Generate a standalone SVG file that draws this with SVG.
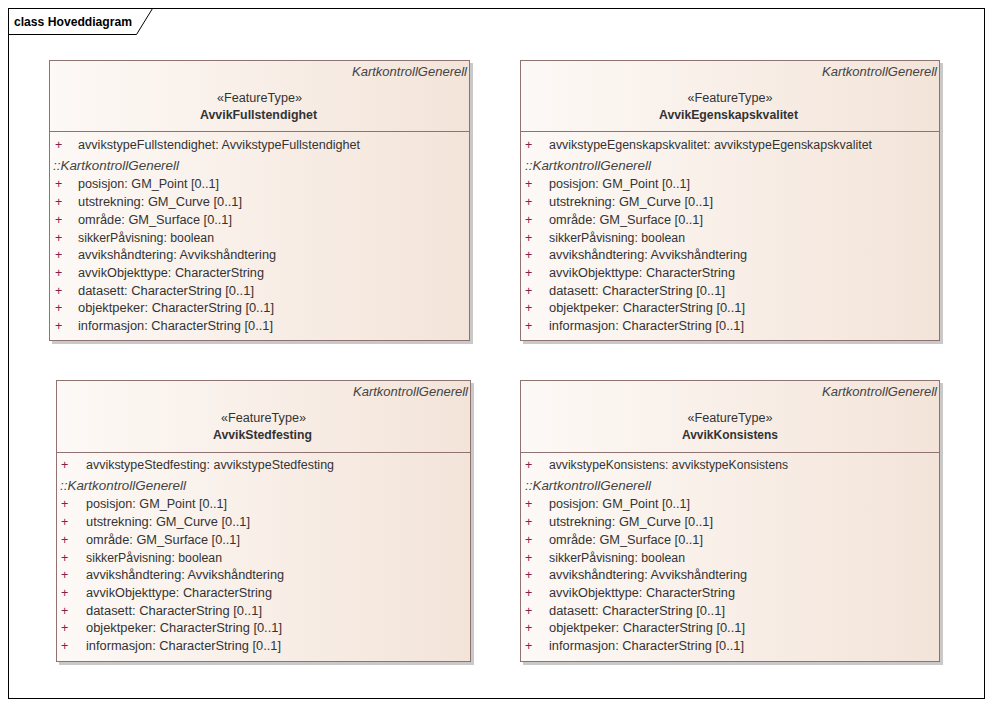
<svg xmlns="http://www.w3.org/2000/svg" width="992" height="707" viewBox="0 0 992 707">
<defs>
<linearGradient id="g" x1="0" y1="0" x2="1" y2="0">
<stop offset="0" stop-color="#fdf9f6"/>
<stop offset="1" stop-color="#f3e4d9"/>
</linearGradient>
<style>
text{font-family:"Liberation Sans","DejaVu Sans",sans-serif;font-size:12.5px;fill:#333}
.box{fill:url(#g);stroke:#8f7373;stroke-width:1}
.sh{fill:#c9c9c9}
.div{stroke:#8f7373;stroke-width:1}
.it{font-style:italic;fill:#444}
.b{font-weight:bold}
.p{fill:#8b1c4c}
.m{text-anchor:middle}
.r{text-anchor:end}
</style>
</defs>
<rect width="992" height="707" fill="#fff"/>
<g id="frame">
<rect x="8.5" y="8.5" width="976" height="690" fill="none" stroke="#000"/>
<path d="M8.5 34.5H136.5L152.5 8.5" fill="none" stroke="#000"/>
<text x="14" y="26" style="font-size:12.5px;fill:#000;font-weight:bold" textLength="118" lengthAdjust="spacingAndGlyphs">class Hoveddiagram</text>
</g>
<g id="connectors"/>
<g id="AvvikFullstendighet">
<rect class="sh" x="52" y="63" width="421" height="281"/>
<rect class="box" x="49.5" y="60.5" width="420" height="280"/>
<line class="div" x1="49.5" y1="131.5" x2="469.5" y2="131.5"/>
<text class="it r" x="467" y="76" textLength="115" lengthAdjust="spacingAndGlyphs">KartkontrollGenerell</text>
<text class="m" x="259.5" y="102" textLength="85" lengthAdjust="spacingAndGlyphs">«FeatureType»</text>
<text class="b m" x="258.5" y="119" textLength="117" lengthAdjust="spacingAndGlyphs">AvvikFullstendighet</text>
<g><text class="p" x="55" y="149">+</text><text class="p" x="55" y="188">+</text><text class="p" x="55" y="206">+</text><text class="p" x="55" y="224">+</text><text class="p" x="55" y="242">+</text><text class="p" x="55" y="259">+</text><text class="p" x="55" y="277">+</text><text class="p" x="55" y="295">+</text><text class="p" x="55" y="312">+</text><text class="p" x="55" y="330">+</text></g>
<text x="78" y="149" textLength="282" lengthAdjust="spacingAndGlyphs">avvikstypeFullstendighet: AvvikstypeFullstendighet</text>
<text class="it" x="53" y="170" textLength="126" lengthAdjust="spacingAndGlyphs">::KartkontrollGenerell</text>
<text x="78" y="188" textLength="141" lengthAdjust="spacingAndGlyphs">posisjon: GM_Point [0..1]</text>
<text x="78" y="206" textLength="164" lengthAdjust="spacingAndGlyphs">utstrekning: GM_Curve [0..1]</text>
<text x="78" y="224" textLength="154" lengthAdjust="spacingAndGlyphs">område: GM_Surface [0..1]</text>
<text x="78" y="242" textLength="136" lengthAdjust="spacingAndGlyphs">sikkerPåvisning: boolean</text>
<text x="78" y="259" textLength="198" lengthAdjust="spacingAndGlyphs">avvikshåndtering: Avvikshåndtering</text>
<text x="78" y="277" textLength="186" lengthAdjust="spacingAndGlyphs">avvikObjekttype: CharacterString</text>
<text x="78" y="295" textLength="176" lengthAdjust="spacingAndGlyphs">datasett: CharacterString [0..1]</text>
<text x="78" y="312" textLength="196" lengthAdjust="spacingAndGlyphs">objektpeker: CharacterString [0..1]</text>
<text x="78" y="330" textLength="195" lengthAdjust="spacingAndGlyphs">informasjon: CharacterString [0..1]</text>
</g>
<g id="AvvikEgenskapskvalitet">
<rect class="sh" x="523" y="63" width="420" height="281"/>
<rect class="box" x="520.5" y="60.5" width="419" height="280"/>
<line class="div" x1="520.5" y1="131.5" x2="939.5" y2="131.5"/>
<text class="it r" x="937" y="76" textLength="115" lengthAdjust="spacingAndGlyphs">KartkontrollGenerell</text>
<text class="m" x="730" y="102" textLength="85" lengthAdjust="spacingAndGlyphs">«FeatureType»</text>
<text class="b m" x="728.5" y="119" textLength="139" lengthAdjust="spacingAndGlyphs">AvvikEgenskapskvalitet</text>
<g><text class="p" x="525" y="149">+</text><text class="p" x="525" y="188">+</text><text class="p" x="525" y="206">+</text><text class="p" x="525" y="224">+</text><text class="p" x="525" y="242">+</text><text class="p" x="525" y="259">+</text><text class="p" x="525" y="277">+</text><text class="p" x="525" y="295">+</text><text class="p" x="525" y="312">+</text><text class="p" x="525" y="330">+</text></g>
<text x="549" y="149" textLength="323" lengthAdjust="spacingAndGlyphs">avvikstypeEgenskapskvalitet: avvikstypeEgenskapskvalitet</text>
<text class="it" x="525" y="170" textLength="126" lengthAdjust="spacingAndGlyphs">::KartkontrollGenerell</text>
<text x="549" y="188" textLength="141" lengthAdjust="spacingAndGlyphs">posisjon: GM_Point [0..1]</text>
<text x="549" y="206" textLength="164" lengthAdjust="spacingAndGlyphs">utstrekning: GM_Curve [0..1]</text>
<text x="549" y="224" textLength="154" lengthAdjust="spacingAndGlyphs">område: GM_Surface [0..1]</text>
<text x="549" y="242" textLength="136" lengthAdjust="spacingAndGlyphs">sikkerPåvisning: boolean</text>
<text x="549" y="259" textLength="198" lengthAdjust="spacingAndGlyphs">avvikshåndtering: Avvikshåndtering</text>
<text x="549" y="277" textLength="186" lengthAdjust="spacingAndGlyphs">avvikObjekttype: CharacterString</text>
<text x="549" y="295" textLength="176" lengthAdjust="spacingAndGlyphs">datasett: CharacterString [0..1]</text>
<text x="549" y="312" textLength="196" lengthAdjust="spacingAndGlyphs">objektpeker: CharacterString [0..1]</text>
<text x="549" y="330" textLength="195" lengthAdjust="spacingAndGlyphs">informasjon: CharacterString [0..1]</text>
</g>
<g id="AvvikStedfesting">
<rect class="sh" x="59" y="383" width="415" height="282"/>
<rect class="box" x="56.5" y="380.5" width="414" height="281"/>
<line class="div" x1="56.5" y1="452.5" x2="470.5" y2="452.5"/>
<text class="it r" x="468" y="396" textLength="115" lengthAdjust="spacingAndGlyphs">KartkontrollGenerell</text>
<text class="m" x="263.5" y="422" textLength="85" lengthAdjust="spacingAndGlyphs">«FeatureType»</text>
<text class="b m" x="262.5" y="439" textLength="99" lengthAdjust="spacingAndGlyphs">AvvikStedfesting</text>
<g><text class="p" x="61" y="469">+</text><text class="p" x="61" y="508">+</text><text class="p" x="61" y="526">+</text><text class="p" x="61" y="544">+</text><text class="p" x="61" y="562">+</text><text class="p" x="61" y="579">+</text><text class="p" x="61" y="597">+</text><text class="p" x="61" y="615">+</text><text class="p" x="61" y="632">+</text><text class="p" x="61" y="650">+</text></g>
<text x="86" y="469" textLength="248" lengthAdjust="spacingAndGlyphs">avvikstypeStedfesting: avvikstypeStedfesting</text>
<text class="it" x="60" y="490" textLength="126" lengthAdjust="spacingAndGlyphs">::KartkontrollGenerell</text>
<text x="86" y="508" textLength="141" lengthAdjust="spacingAndGlyphs">posisjon: GM_Point [0..1]</text>
<text x="86" y="526" textLength="164" lengthAdjust="spacingAndGlyphs">utstrekning: GM_Curve [0..1]</text>
<text x="86" y="544" textLength="154" lengthAdjust="spacingAndGlyphs">område: GM_Surface [0..1]</text>
<text x="86" y="562" textLength="136" lengthAdjust="spacingAndGlyphs">sikkerPåvisning: boolean</text>
<text x="86" y="579" textLength="198" lengthAdjust="spacingAndGlyphs">avvikshåndtering: Avvikshåndtering</text>
<text x="86" y="597" textLength="186" lengthAdjust="spacingAndGlyphs">avvikObjekttype: CharacterString</text>
<text x="86" y="615" textLength="176" lengthAdjust="spacingAndGlyphs">datasett: CharacterString [0..1]</text>
<text x="86" y="632" textLength="196" lengthAdjust="spacingAndGlyphs">objektpeker: CharacterString [0..1]</text>
<text x="86" y="650" textLength="195" lengthAdjust="spacingAndGlyphs">informasjon: CharacterString [0..1]</text>
</g>
<g id="AvvikKonsistens">
<rect class="sh" x="523" y="383" width="420" height="282"/>
<rect class="box" x="520.5" y="380.5" width="419" height="281"/>
<line class="div" x1="520.5" y1="452.5" x2="939.5" y2="452.5"/>
<text class="it r" x="937" y="396" textLength="115" lengthAdjust="spacingAndGlyphs">KartkontrollGenerell</text>
<text class="m" x="730" y="422" textLength="85" lengthAdjust="spacingAndGlyphs">«FeatureType»</text>
<text class="b m" x="730" y="439" textLength="96" lengthAdjust="spacingAndGlyphs">AvvikKonsistens</text>
<g><text class="p" x="525" y="469">+</text><text class="p" x="525" y="508">+</text><text class="p" x="525" y="526">+</text><text class="p" x="525" y="544">+</text><text class="p" x="525" y="562">+</text><text class="p" x="525" y="579">+</text><text class="p" x="525" y="597">+</text><text class="p" x="525" y="615">+</text><text class="p" x="525" y="632">+</text><text class="p" x="525" y="650">+</text></g>
<text x="549" y="469" textLength="239" lengthAdjust="spacingAndGlyphs">avvikstypeKonsistens: avvikstypeKonsistens</text>
<text class="it" x="525" y="490" textLength="126" lengthAdjust="spacingAndGlyphs">::KartkontrollGenerell</text>
<text x="549" y="508" textLength="141" lengthAdjust="spacingAndGlyphs">posisjon: GM_Point [0..1]</text>
<text x="549" y="526" textLength="164" lengthAdjust="spacingAndGlyphs">utstrekning: GM_Curve [0..1]</text>
<text x="549" y="544" textLength="154" lengthAdjust="spacingAndGlyphs">område: GM_Surface [0..1]</text>
<text x="549" y="562" textLength="136" lengthAdjust="spacingAndGlyphs">sikkerPåvisning: boolean</text>
<text x="549" y="579" textLength="198" lengthAdjust="spacingAndGlyphs">avvikshåndtering: Avvikshåndtering</text>
<text x="549" y="597" textLength="186" lengthAdjust="spacingAndGlyphs">avvikObjekttype: CharacterString</text>
<text x="549" y="615" textLength="176" lengthAdjust="spacingAndGlyphs">datasett: CharacterString [0..1]</text>
<text x="549" y="632" textLength="196" lengthAdjust="spacingAndGlyphs">objektpeker: CharacterString [0..1]</text>
<text x="549" y="650" textLength="195" lengthAdjust="spacingAndGlyphs">informasjon: CharacterString [0..1]</text>
</g>
</svg>
